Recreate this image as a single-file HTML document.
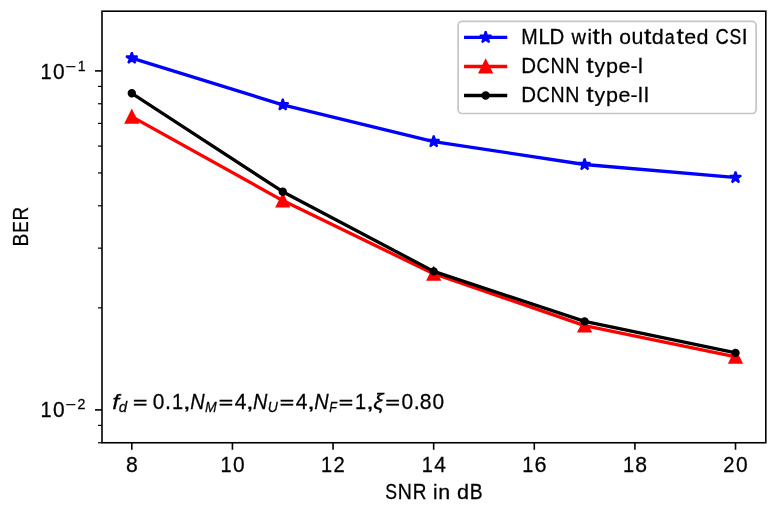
<!DOCTYPE html>
<html><head><meta charset="utf-8">
<title>BER vs SNR</title>
<style>
html,body{margin:0;padding:0;background:#fff;}
body{width:779px;height:506px;overflow:hidden;}
svg{display:block;will-change:transform;}
text{font-family:"Liberation Sans",sans-serif;fill:#000;font-kerning:none;stroke:#000;stroke-width:0.25px;}
</style></head>
<body>
<svg width="779" height="506" viewBox="0 0 779 506">
<defs>
<path id="star" d="M0.00 -6.00 L-1.35 -1.85 L-5.71 -1.85 L-2.18 0.71 L-3.53 4.85 L0.00 2.29 L3.53 4.85 L2.18 0.71 L5.71 -1.85 L1.35 -1.85 Z"/>
<path id="tri" d="M0 -6 L-6 6 L6 6 Z"/>
</defs>
<rect x="0" y="0" width="779" height="506" fill="#fff"/>
<g id="geom">
<polyline fill="none" stroke="#0000ff" stroke-width="3.30" stroke-linejoin="round" stroke-linecap="square" points="131.80,58.20 282.75,104.80 433.70,141.60 584.60,164.50 735.50,177.50"/>
<g fill="#0000ff" stroke="#0000ff" stroke-width="2.00" stroke-linejoin="bevel"><use href="#star" x="131.80" y="58.20"/><use href="#star" x="282.75" y="104.80"/><use href="#star" x="433.70" y="141.60"/><use href="#star" x="584.60" y="164.50"/><use href="#star" x="735.50" y="177.50"/></g>
<polyline fill="none" stroke="#ff0000" stroke-width="3.30" stroke-linejoin="round" stroke-linecap="square" points="131.80,116.70 282.75,200.60 433.70,273.80 584.60,325.60 735.50,356.80"/>
<g fill="#ff0000" stroke="#ff0000" stroke-width="2.00"><use href="#tri" x="131.80" y="116.70"/><use href="#tri" x="282.75" y="200.60"/><use href="#tri" x="433.70" y="273.80"/><use href="#tri" x="584.60" y="325.60"/><use href="#tri" x="735.50" y="356.80"/></g>
<polyline fill="none" stroke="#000" stroke-width="3.30" stroke-linejoin="round" stroke-linecap="square" points="131.80,93.30 282.75,191.70 433.70,271.40 584.60,321.40 735.50,352.90"/>
<g fill="#000" stroke="#000" stroke-width="2.00"><circle cx="131.80" cy="93.30" r="3.20"/><circle cx="282.75" cy="191.70" r="3.20"/><circle cx="433.70" cy="271.40" r="3.20"/><circle cx="584.60" cy="321.40" r="3.20"/><circle cx="735.50" cy="352.90" r="3.20"/></g>
<rect x="102.00" y="11.20" width="663.80" height="431.55" fill="none" stroke="#000" stroke-width="1.60"/>
<g stroke="#000" stroke-width="1.60"><line x1="131.80" y1="442.75" x2="131.80" y2="449.75"/><line x1="232.42" y1="442.75" x2="232.42" y2="449.75"/><line x1="333.04" y1="442.75" x2="333.04" y2="449.75"/><line x1="433.66" y1="442.75" x2="433.66" y2="449.75"/><line x1="534.28" y1="442.75" x2="534.28" y2="449.75"/><line x1="634.90" y1="442.75" x2="634.90" y2="449.75"/><line x1="735.52" y1="442.75" x2="735.52" y2="449.75"/><line x1="95.00" y1="70.90" x2="102.00" y2="70.90"/><line x1="95.00" y1="409.90" x2="102.00" y2="409.90"/></g>
<g stroke="#000" stroke-width="1.2"><line x1="98.00" y1="307.85" x2="102.00" y2="307.85"/><line x1="98.00" y1="248.15" x2="102.00" y2="248.15"/><line x1="98.00" y1="205.80" x2="102.00" y2="205.80"/><line x1="98.00" y1="172.95" x2="102.00" y2="172.95"/><line x1="98.00" y1="146.10" x2="102.00" y2="146.10"/><line x1="98.00" y1="123.41" x2="102.00" y2="123.41"/><line x1="98.00" y1="103.75" x2="102.00" y2="103.75"/><line x1="98.00" y1="86.41" x2="102.00" y2="86.41"/><line x1="98.00" y1="442.75" x2="102.00" y2="442.75"/><line x1="98.00" y1="425.41" x2="102.00" y2="425.41"/></g>
<rect x="458.10" y="21.40" width="298.00" height="92.10" rx="4" ry="4" fill="#fff" stroke="#c6c6c6" stroke-width="1.7"/>
<line x1="465.70" y1="37.40" x2="505.60" y2="37.40" stroke="#0000ff" stroke-width="3.30" stroke-linecap="square"/>
<use href="#star" x="485.65" y="37.40" fill="#0000ff" stroke="#0000ff" stroke-width="2.00" stroke-linejoin="bevel"/>
<line x1="465.70" y1="66.50" x2="505.60" y2="66.50" stroke="#ff0000" stroke-width="3.30" stroke-linecap="square"/>
<use href="#tri" x="485.65" y="66.50" fill="#ff0000" stroke="#ff0000" stroke-width="2.00"/>
<line x1="465.70" y1="95.50" x2="505.60" y2="95.50" stroke="#000" stroke-width="3.30" stroke-linecap="square"/>
<circle cx="485.65" cy="95.50" r="3.20" fill="#000" stroke="#000" stroke-width="2.00"/>
</g>
<text transform="matrix(1.0269 0 0 1.0372 125.91 471.77)" font-size="20.60">8</text>
<text transform="matrix(0.9702 0 0 1.0288 220.45 471.70)" font-size="20.60">1</text>
<text transform="matrix(1.0159 0 0 1.0372 232.91 471.77)" font-size="20.60">0</text>
<text transform="matrix(0.9702 0 0 1.0288 321.07 471.70)" font-size="20.60">1</text>
<text transform="matrix(0.9792 0 0 1.0320 333.48 471.70)" font-size="20.60">2</text>
<text transform="matrix(0.9702 0 0 1.0288 421.69 471.70)" font-size="20.60">1</text>
<text transform="matrix(1.0160 0 0 1.0288 434.15 471.70)" font-size="20.60">4</text>
<text transform="matrix(0.9702 0 0 1.0288 522.31 471.70)" font-size="20.60">1</text>
<text transform="matrix(1.0514 0 0 1.0372 534.57 471.77)" font-size="20.60">6</text>
<text transform="matrix(0.9702 0 0 1.0288 622.93 471.70)" font-size="20.60">1</text>
<text transform="matrix(1.0269 0 0 1.0372 635.33 471.77)" font-size="20.60">8</text>
<text transform="matrix(0.9792 0 0 1.0320 723.33 471.70)" font-size="20.60">2</text>
<text transform="matrix(1.0159 0 0 1.0372 736.01 471.77)" font-size="20.60">0</text>
<text transform="matrix(0.9702 0 0 1.0288 40.55 78.80)" font-size="20.60">1</text>
<text transform="matrix(1.0159 0 0 1.0372 53.02 78.87)" font-size="20.60">0</text>
<text transform="matrix(1.1867 0 0 0.6927 66.30 70.07)" font-size="14.42" style="stroke-width:0.650px">−</text>
<text transform="matrix(0.9775 0 0 1.0288 77.63 71.14)" font-size="14.42">1</text>
<text transform="matrix(0.9702 0 0 1.0288 40.55 416.80)" font-size="20.60">1</text>
<text transform="matrix(1.0159 0 0 1.0372 53.02 416.87)" font-size="20.60">0</text>
<text transform="matrix(1.1867 0 0 0.6927 66.30 408.07)" font-size="14.42" style="stroke-width:0.650px">−</text>
<text transform="matrix(0.9865 0 0 1.0320 77.48 409.14)" font-size="14.42">2</text>
<text transform="matrix(0.8591 0 0 1.0372 385.31 498.87)" font-size="20.60">S</text>
<text transform="matrix(0.9519 0 0 1.0288 397.75 498.80)" font-size="20.60">N</text>
<text transform="matrix(0.9217 0 0 1.0288 412.65 498.80)" font-size="20.60">R</text>
<text transform="matrix(0.9851 0 0 1.0180 432.88 498.80)" font-size="20.60">i</text>
<text transform="matrix(1.0390 0 0 1.0105 438.26 498.80)" font-size="20.60">n</text>
<text transform="matrix(1.0474 0 0 1.0232 456.96 498.88)" font-size="20.60">d</text>
<text transform="matrix(0.9363 0 0 1.0288 469.74 498.80)" font-size="20.60">B</text>
<text transform="matrix(0.9599 0 0 1.0288 521.34 44.00)" font-size="20.60">M</text>
<text transform="matrix(0.9904 0 0 1.0288 538.40 44.00)" font-size="20.60">L</text>
<text transform="matrix(0.9961 0 0 1.0288 549.44 44.00)" font-size="20.60">D</text>
<text transform="matrix(0.9731 0 0 1.0050 571.61 44.00)" font-size="20.60">w</text>
<text transform="matrix(0.9841 0 0 1.0180 587.48 44.00)" font-size="20.60">i</text>
<text transform="matrix(1.2867 0 0 1.0419 592.61 43.83)" font-size="20.60">t</text>
<text transform="matrix(1.0452 0 0 1.0180 600.56 44.00)" font-size="20.60">h</text>
<text transform="matrix(1.0234 0 0 1.0176 619.34 44.08)" font-size="20.60">o</text>
<text transform="matrix(1.0380 0 0 1.0361 631.56 44.07)" font-size="20.60">u</text>
<text transform="matrix(1.2867 0 0 1.0419 643.96 43.83)" font-size="20.60">t</text>
<text transform="matrix(1.0463 0 0 1.0232 651.80 44.08)" font-size="20.60">d</text>
<text transform="matrix(0.8657 0 0 1.0176 664.63 44.08)" font-size="20.60">a</text>
<text transform="matrix(1.2867 0 0 1.0419 676.48 43.83)" font-size="20.60">t</text>
<text transform="matrix(1.0399 0 0 1.0176 684.31 44.08)" font-size="20.60">e</text>
<text transform="matrix(1.0463 0 0 1.0232 696.51 44.08)" font-size="20.60">d</text>
<text transform="matrix(0.8937 0 0 1.0372 715.40 44.07)" font-size="20.60">C</text>
<text transform="matrix(0.8582 0 0 1.0372 729.57 44.07)" font-size="20.60">S</text>
<text transform="matrix(1.0182 0 0 1.0288 741.67 44.00)" font-size="20.60">I</text>
<text transform="matrix(0.9961 0 0 1.0288 521.28 73.00)" font-size="20.60">D</text>
<text transform="matrix(0.8937 0 0 1.0372 536.46 73.07)" font-size="20.60">C</text>
<text transform="matrix(0.9509 0 0 1.0288 550.47 73.00)" font-size="20.60">N</text>
<text transform="matrix(0.9509 0 0 1.0288 565.31 73.00)" font-size="20.60">N</text>
<text transform="matrix(1.2867 0 0 1.0419 586.24 72.83)" font-size="20.60">t</text>
<text transform="matrix(1.0339 0 0 0.9960 594.42 72.90)" font-size="20.60">y</text>
<text transform="matrix(1.0474 0 0 1.0008 606.03 72.88)" font-size="20.60">p</text>
<text transform="matrix(1.0399 0 0 1.0176 618.39 73.08)" font-size="20.60">e</text>
<text transform="matrix(1.0378 0 0 0.9951 630.43 72.97)" font-size="20.60">-</text>
<text transform="matrix(1.0182 0 0 1.0288 637.58 73.00)" font-size="20.60">I</text>
<text transform="matrix(0.9961 0 0 1.0288 521.28 101.90)" font-size="20.60">D</text>
<text transform="matrix(0.8937 0 0 1.0372 536.46 101.97)" font-size="20.60">C</text>
<text transform="matrix(0.9509 0 0 1.0288 550.47 101.90)" font-size="20.60">N</text>
<text transform="matrix(0.9509 0 0 1.0288 565.31 101.90)" font-size="20.60">N</text>
<text transform="matrix(1.2867 0 0 1.0419 586.24 101.73)" font-size="20.60">t</text>
<text transform="matrix(1.0339 0 0 0.9960 594.42 101.80)" font-size="20.60">y</text>
<text transform="matrix(1.0474 0 0 1.0008 606.03 101.78)" font-size="20.60">p</text>
<text transform="matrix(1.0399 0 0 1.0176 618.39 101.98)" font-size="20.60">e</text>
<text transform="matrix(1.0378 0 0 0.9951 630.43 101.87)" font-size="20.60">-</text>
<text transform="matrix(1.0182 0 0 1.0288 637.58 101.90)" font-size="20.60">I</text>
<text transform="matrix(1.0182 0 0 1.0288 643.43 101.90)" font-size="20.60">I</text>
<text transform="matrix(1.1957 0 0 1.0180 112.13 408.90)" font-size="20.60" font-style="italic">f</text>
<text transform="matrix(1.0417 0 0 1.0225 118.73 412.35)" font-size="14.42" font-style="italic">d</text>
<text transform="matrix(1.1967 0 0 0.7825 132.95 407.95)" font-size="20.60" style="stroke-width:0.575px">=</text>
<text transform="matrix(1.0159 0 0 1.0372 152.82 408.98)" font-size="20.60">0</text>
<text transform="matrix(1.0428 0 0 1.1260 165.12 408.90)" font-size="20.60">.</text>
<text transform="matrix(0.9702 0 0 1.0288 171.93 408.90)" font-size="20.60">1</text>
<text transform="matrix(1.4048 0 0 0.9931 182.83 408.61)" font-size="20.60">,</text>
<text transform="matrix(0.9671 0 0 1.0288 190.13 408.90)" font-size="20.60" font-style="italic">N</text>
<text transform="matrix(0.9719 0 0 1.0288 205.00 412.30)" font-size="14.42" font-style="italic">M</text>
<text transform="matrix(1.1967 0 0 0.7825 218.72 407.95)" font-size="20.60" style="stroke-width:0.575px">=</text>
<text transform="matrix(1.0160 0 0 1.0288 234.72 408.90)" font-size="20.60">4</text>
<text transform="matrix(1.4048 0 0 0.9931 245.79 408.61)" font-size="20.60">,</text>
<text transform="matrix(0.9671 0 0 1.0288 253.09 408.90)" font-size="20.60" font-style="italic">N</text>
<text transform="matrix(0.9673 0 0 1.0341 267.78 412.36)" font-size="14.42" font-style="italic">U</text>
<text transform="matrix(1.1967 0 0 0.7825 279.86 407.95)" font-size="20.60" style="stroke-width:0.575px">=</text>
<text transform="matrix(1.0160 0 0 1.0288 295.86 408.90)" font-size="20.60">4</text>
<text transform="matrix(1.4048 0 0 0.9931 306.93 408.61)" font-size="20.60">,</text>
<text transform="matrix(0.9671 0 0 1.0288 314.23 408.90)" font-size="20.60" font-style="italic">N</text>
<text transform="matrix(0.8609 0 0 1.0288 329.15 412.30)" font-size="14.42" font-style="italic">F</text>
<text transform="matrix(1.1967 0 0 0.7825 338.82 407.95)" font-size="20.60" style="stroke-width:0.575px">=</text>
<text transform="matrix(0.9702 0 0 1.0288 354.99 408.90)" font-size="20.60">1</text>
<text transform="matrix(1.4048 0 0 0.9931 365.89 408.61)" font-size="20.60">,</text>
<text transform="matrix(1.1182 0 0 1.0422 373.30 409.27)" font-size="20.60" font-style="italic">ξ</text>
<text transform="matrix(1.1967 0 0 0.7825 385.46 407.95)" font-size="20.60" style="stroke-width:0.575px">=</text>
<text transform="matrix(1.0159 0 0 1.0372 401.46 408.98)" font-size="20.60">0</text>
<text transform="matrix(1.0428 0 0 1.1260 413.76 408.90)" font-size="20.60">.</text>
<text transform="matrix(1.0269 0 0 1.0372 419.84 408.98)" font-size="20.60">8</text>
<text transform="matrix(1.0159 0 0 1.0372 432.54 408.98)" font-size="20.60">0</text>
<text transform="matrix(0 -0.9363 1.0288 0 28.10 246.61)" font-size="20.60">B</text>
<text transform="matrix(0 -0.8352 1.0288 0 28.10 232.82)" font-size="20.60">E</text>
<text transform="matrix(0 -0.9217 1.0288 0 28.10 220.42)" font-size="20.60">R</text>
</svg>
</body></html>
